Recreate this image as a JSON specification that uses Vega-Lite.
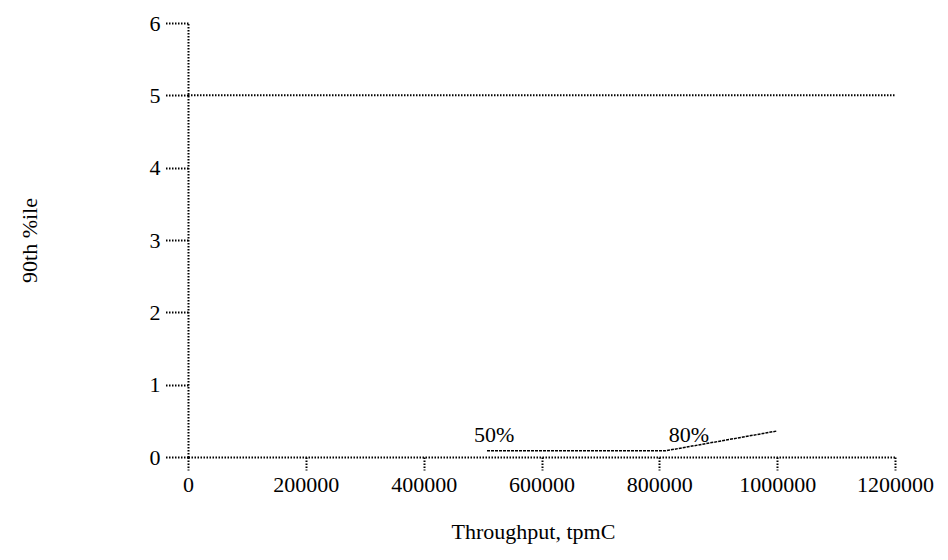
{
  "$schema": "https://vega.github.io/schema/vega-lite/v6.json",
  "width": 707,
  "height": 434,
  "autosize": {"type": "none"},
  "padding": {"left": 188, "top": 23, "right": 53, "bottom": 103},
  "background": "white",
  "config": {
    "view": {"stroke": null},
    "font": "Liberation Serif",
    "axis": {
      "domainColor": "black",
      "domainDash": [1.5, 1.5],
      "domainWidth": 2,
      "tickColor": "black",
      "tickDash": [1.5, 1.5],
      "tickWidth": 2,
      "labelColor": "black",
      "labelFont": "Liberation Serif",
      "labelFontSize": 22,
      "labelFlush": false,
      "labelOverlap": false,
      "titleFont": "Liberation Serif",
      "titleFontSize": 22,
      "titleFontWeight": "normal",
      "titleColor": "black",
      "grid": false
    }
  },
  "datasets": {
    "ref": [
      {"x": 0, "y": 5},
      {"x": 1200000, "y": 5}
    ],
    "series": [
      {"x": 507500, "y": 0.085},
      {"x": 810000, "y": 0.085},
      {"x": 1000000, "y": 0.36}
    ],
    "labels": [
      {"x": 485400, "y": 0.21, "label": "50%"},
      {"x": 816000, "y": 0.21, "label": "80%"}
    ]
  },
  "layer": [
    {
      "data": {"name": "ref"},
      "mark": {"type": "line", "color": "black", "strokeDash": [1.5, 1.5], "strokeWidth": 2},
      "encoding": {
        "x": {
          "field": "x", "type": "quantitative",
          "scale": {"domain": [0, 1200000], "nice": false, "zero": false},
          "axis": {
            "values": [0, 200000, 400000, 600000, 800000, 1000000, 1200000],
            "format": "d",
            "tickSize": 13,
            "labelPadding": 4,
            "title": "Throughput, tpmC",
            "titleX": 345,
            "titleY": 74,
            "titleBaseline": "middle"
          }
        },
        "y": {
          "field": "y", "type": "quantitative",
          "scale": {"domain": [0, 6], "nice": false},
          "axis": {
            "values": [0, 1, 2, 3, 4, 5, 6],
            "format": "d",
            "tickSize": 23,
            "labelPadding": 5,
            "title": "90th %ile",
            "titleX": -159,
            "titleY": 217,
            "titleAngle": -90,
            "titleAlign": "center",
            "titleBaseline": "middle"
          }
        }
      }
    },
    {
      "data": {"name": "series"},
      "mark": {"type": "line", "color": "black", "strokeDash": [3, 1], "strokeWidth": 1.5},
      "encoding": {
        "x": {"field": "x", "type": "quantitative"},
        "y": {"field": "y", "type": "quantitative"}
      }
    },
    {
      "data": {"name": "labels"},
      "mark": {"type": "text", "align": "left", "baseline": "alphabetic", "fontSize": 22, "font": "Liberation Serif", "color": "black"},
      "encoding": {
        "x": {"field": "x", "type": "quantitative"},
        "y": {"field": "y", "type": "quantitative"},
        "text": {"field": "label", "type": "nominal"}
      }
    }
  ]
}
